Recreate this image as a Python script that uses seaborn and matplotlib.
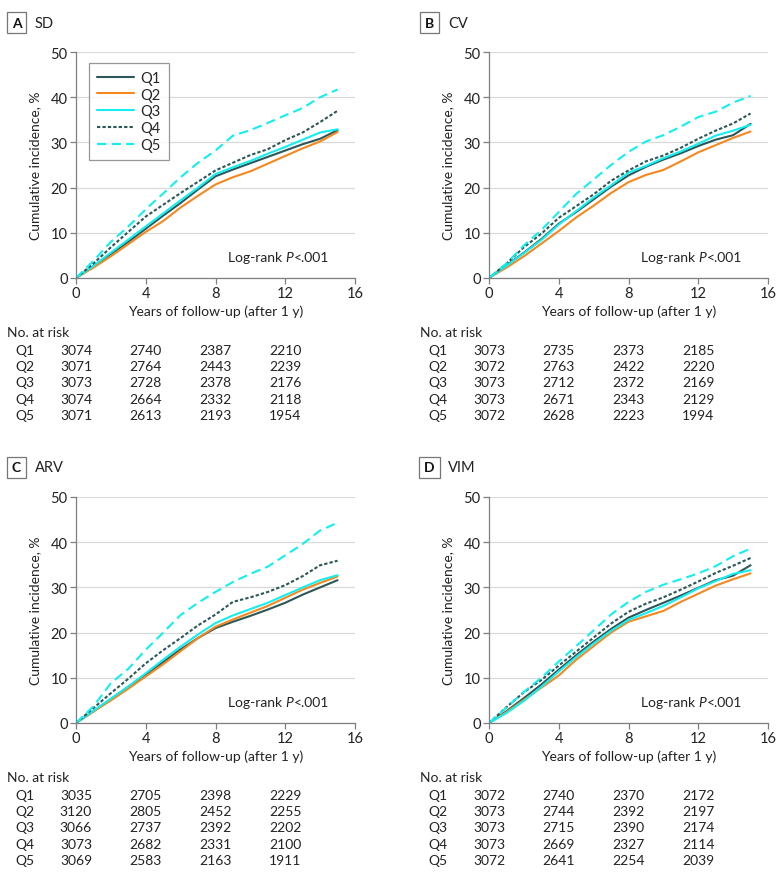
import matplotlib
matplotlib.use("Agg")
import matplotlib.pyplot as plt
import matplotlib.transforms as mtransforms
import numpy as np
import pandas as pd
import seaborn as sns

# ---- data ----
years = list(range(0, 16))
groups = ["Q1", "Q2", "Q3", "Q4", "Q5"]

sd_q1 = [0, 2.6, 5.3, 8.0, 10.9, 13.8, 16.6, 19.6, 22.5, 24.0, 25.4, 26.8, 28.2, 29.6, 30.8, 32.7]
sd_q2 = [0, 2.3, 4.8, 7.5, 10.2, 12.6, 15.6, 18.2, 20.7, 22.3, 23.6, 25.3, 27.0, 28.7, 30.2, 32.3]
sd_q3 = [0, 2.7, 5.6, 8.5, 11.4, 14.3, 17.2, 20.0, 23.0, 24.5, 25.9, 27.5, 29.0, 30.6, 32.2, 32.9]
sd_q4 = [0, 3.2, 6.8, 10.2, 13.6, 16.2, 18.8, 21.3, 23.8, 25.5, 27.2, 28.5, 30.5, 32.2, 34.5, 37.0]
sd_q5 = [0, 3.8, 8.0, 11.4, 15.2, 18.7, 22.3, 25.5, 28.2, 31.5, 32.7, 34.3, 36.0, 37.6, 40.0, 41.7]

cv_q1 = [0, 2.8, 5.6, 8.6, 12.0, 14.6, 17.4, 20.2, 22.7, 24.6, 26.2, 27.6, 29.2, 30.6, 31.6, 34.1]
cv_q2 = [0, 2.3, 4.8, 7.6, 10.4, 13.4, 16.0, 18.8, 21.2, 22.8, 23.9, 25.8, 27.8, 29.4, 31.0, 32.4]
cv_q3 = [0, 2.7, 5.5, 8.4, 11.8, 14.8, 17.8, 20.5, 23.3, 24.8, 26.5, 28.0, 29.7, 31.5, 32.6, 33.9]
cv_q4 = [0, 3.2, 6.8, 9.8, 13.3, 15.9, 18.5, 21.5, 23.8, 25.8, 27.1, 28.8, 30.8, 32.6, 34.2, 36.4]
cv_q5 = [0, 3.2, 7.2, 10.6, 14.6, 18.6, 21.8, 25.0, 27.9, 30.2, 31.6, 33.5, 35.6, 36.8, 38.8, 40.3]

arv_q1 = [0, 2.6, 5.3, 8.0, 10.7, 13.5, 16.3, 18.8, 21.0, 22.4, 23.7, 25.1, 26.6, 28.4, 30.0, 31.6]
arv_q2 = [0, 2.5, 5.0, 7.6, 10.3, 13.0, 15.9, 18.8, 21.3, 22.9, 24.4, 25.9, 27.7, 29.5, 31.0, 32.4]
arv_q3 = [0, 2.7, 5.4, 8.1, 11.0, 14.0, 16.9, 19.6, 22.1, 23.8, 25.2, 26.6, 28.3, 30.0, 31.6, 32.7]
arv_q4 = [0, 3.3, 6.6, 9.8, 13.2, 16.1, 18.8, 21.6, 24.0, 26.8, 27.8, 29.0, 30.5, 32.5, 34.9, 35.9]
arv_q5 = [0, 3.7, 8.8, 12.0, 16.2, 20.0, 23.9, 26.6, 29.0, 31.2, 33.0, 34.6, 37.1, 39.6, 42.6, 44.3]

vim_q1 = [0, 2.6, 5.5, 8.5, 11.8, 15.0, 18.0, 20.8, 23.3, 25.0, 26.6, 28.2, 29.9, 31.6, 32.6, 34.9]
vim_q2 = [0, 2.4, 5.1, 7.8, 10.5, 14.0, 17.0, 20.0, 22.4, 23.6, 24.8, 26.8, 28.6, 30.4, 31.8, 33.1]
vim_q3 = [0, 2.2, 4.9, 8.0, 11.4, 14.6, 17.6, 20.4, 22.8, 24.3, 25.9, 27.8, 29.8, 31.4, 33.0, 33.8]
vim_q4 = [0, 3.5, 6.8, 9.5, 12.7, 15.8, 18.9, 22.0, 24.6, 26.4, 27.8, 29.5, 31.3, 33.2, 34.8, 36.5]
vim_q5 = [0, 3.4, 6.9, 10.0, 13.6, 17.0, 20.5, 24.0, 26.8, 29.0, 30.6, 31.8, 33.1, 34.7, 36.9, 38.6]

risk_years = [0, 4, 8, 12]
sd_risk = [[3074, 2740, 2387, 2210], [3071, 2764, 2443, 2239], [3073, 2728, 2378, 2176],
           [3074, 2664, 2332, 2118], [3071, 2613, 2193, 1954]]
cv_risk = [[3073, 2735, 2373, 2185], [3072, 2763, 2422, 2220], [3073, 2712, 2372, 2169],
           [3073, 2671, 2343, 2129], [3072, 2628, 2223, 1994]]
arv_risk = [[3035, 2705, 2398, 2229], [3120, 2805, 2452, 2255], [3066, 2737, 2392, 2202],
            [3073, 2682, 2331, 2100], [3069, 2583, 2163, 1911]]
vim_risk = [[3072, 2740, 2370, 2172], [3073, 2744, 2392, 2197], [3073, 2715, 2390, 2174],
            [3073, 2669, 2327, 2114], [3072, 2641, 2254, 2039]]

panels = [
    ("A", "SD", [sd_q1, sd_q2, sd_q3, sd_q4, sd_q5], sd_risk),
    ("B", "CV", [cv_q1, cv_q2, cv_q3, cv_q4, cv_q5], cv_risk),
    ("C", "ARV", [arv_q1, arv_q2, arv_q3, arv_q4, arv_q5], arv_risk),
    ("D", "VIM", [vim_q1, vim_q2, vim_q3, vim_q4, vim_q5], vim_risk),
]

# ---- style ----
dark = "#2c5758"
cyan = "#14eef0"
palette = {"Q1": dark, "Q2": "#f5871f", "Q3": cyan, "Q4": dark, "Q5": cyan}
dashes = {"Q1": "", "Q2": "", "Q3": "", "Q4": (1.6, 1.0), "Q5": (4.5, 2.5)}

sns.set_theme(style="white")
plt.rcParams["font.family"] = ["Lato", "DejaVu Sans"]
FS = 10
TXT = "#222222"

W, H = 783, 879
fig = plt.figure(figsize=(W / 100, H / 100), dpi=100)

# axes boxes in pixels: (left, top)
boxes = [(76, 53), (489, 53), (76, 498), (489, 498)]
AW, AH = 279, 226


def fx(px):
    return px / W


def fy(py):
    return 1 - py / H


for (letter, name, curves, risk), (left, top) in zip(panels, boxes):
    ax = fig.add_axes([fx(left), fy(top + AH), AW / W, AH / H])
    df = pd.DataFrame({
        "year": years * len(groups),
        "inc": [v for c in curves for v in c],
        "group": [g for g in groups for _ in years],
    })
    sns.lineplot(data=df, x="year", y="inc", hue="group", style="group",
                 palette=palette, dashes=dashes, linewidth=1.5, ax=ax,
                 legend=(letter == "A"))
    ax.set_xlim(0, 16)
    ax.set_ylim(0, 50)
    ax.set_xticks([0, 4, 8, 12, 16])
    ax.set_yticks([0, 10, 20, 30, 40, 50])
    ax.yaxis.grid(True, color="#d9d9d9", lw=0.9)
    ax.set_axisbelow(True)
    for s in ["top", "right"]:
        ax.spines[s].set_visible(False)
    for s in ["left", "bottom"]:
        ax.spines[s].set_color("#7f7f7f")
        ax.spines[s].set_linewidth(0.9)
    ax.tick_params(axis="both", length=4, width=0.9, color="#7f7f7f",
                   labelsize=FS + 0.5, labelcolor=TXT, pad=2, direction="out",
                   bottom=True, left=True)
    ax.set_xlabel("Years of follow-up (after 1 y)", fontsize=FS, color=TXT)
    ax.set_ylabel("Cumulative incidence, %", fontsize=FS, color=TXT)
    ax.xaxis.set_label_coords(0.5, -0.115)
    ax.yaxis.set_label_coords(-0.125, 0.5)

    # "Log-rank P<.001" with italic P, built right to left
    t3 = ax.text(14.5, 4.6, "<.001", ha="right", va="center", fontsize=FS, color=TXT)
    t2 = ax.annotate("P", xy=(0, 0.5), xycoords=t3, ha="right", va="center",
                     fontsize=FS, color=TXT, style="italic")
    ax.annotate("Log-rank ", xy=(0, 0.5), xycoords=t2, ha="right", va="center",
                fontsize=FS, color=TXT)

    if letter == "A":
        leg = ax.legend(loc="upper left", bbox_to_anchor=(0.045, 0.953),
                        frameon=True, fancybox=False, fontsize=FS + 0.5,
                        handlelength=2.6, handletextpad=0.4, labelspacing=0.2,
                        borderpad=0.55, borderaxespad=0)
        leg.get_frame().set_edgecolor("#7f7f7f")
        leg.get_frame().set_linewidth(0.9)
        for h in leg.get_lines():
            h.set_linewidth(1.5)

    # panel label
    fig.text(fx(left - 59.5), fy(top - 29.5), letter, ha="center", va="center",
             fontsize=FS, fontweight="bold", color="#111111",
             bbox=dict(boxstyle="square,pad=0.35", fc="white", ec="#777777", lw=0.9))
    fig.text(fx(left - 41), fy(top - 29.5), name, ha="left", va="center",
             fontsize=FS + 0.5, color=TXT)

    # risk table
    base = top + AH
    trans = mtransforms.blended_transform_factory(ax.transData, fig.transFigure)
    fig.text(fx(left - 69), fy(base + 54), "No. at risk", ha="left", va="center",
             fontsize=FS, color=TXT)
    for i, g in enumerate(groups):
        yy = fy(base + 72 + i * 16.25)
        fig.text(fx(left - 61), yy, g, ha="left", va="center", fontsize=FS,
                 color=TXT)
        for xv, n in zip(risk_years, risk[i]):
            ax.text(xv, yy, str(n), transform=trans, ha="center", va="center",
                    fontsize=FS, color=TXT)

fig.savefig("out.png", dpi=100, facecolor="white")
